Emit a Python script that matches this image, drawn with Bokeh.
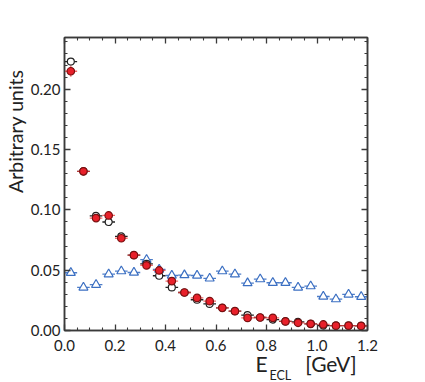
from bokeh.plotting import figure
from bokeh.models import (LinearAxis, FixedTicker, PrintfTickFormatter,
                          CustomJSTickFormatter, Range1d, Title)
from bokeh.embed import file_html
from bokeh.resources import INLINE

# ---- data ----
bin_center = [0.025, 0.075, 0.125, 0.175, 0.225, 0.275, 0.325, 0.375, 0.425, 0.475,
              0.525, 0.575, 0.625, 0.675, 0.725, 0.775, 0.825, 0.875, 0.925, 0.975,
              1.025, 1.075, 1.125, 1.175]
bin_half = 0.025

black_vals = [0.223, 0.132, 0.095, 0.090, 0.078, 0.0625, 0.0553, 0.0454, 0.0357, 0.0315,
              0.0255, 0.022, 0.0188, 0.016, 0.0128, 0.0108, 0.0091, 0.0075, 0.0072, 0.0055,
              0.0041, 0.0040, 0.0040, 0.0038]
black_err = [0.002, 0.0015, 0.0013, 0.0013, 0.0012, 0.0011, 0.001, 0.001, 0.0009, 0.0009,
             0.0008, 0.0008, 0.0007, 0.0007, 0.0006, 0.0006, 0.0006, 0.0005, 0.0005, 0.0005,
             0.0004, 0.0004, 0.0004, 0.0004]

red_vals = [0.215, 0.132, 0.0932, 0.0954, 0.0765, 0.0625, 0.054, 0.0498, 0.041, 0.0315,
            0.027, 0.0243, 0.0188, 0.016, 0.0104, 0.0108, 0.0105, 0.0075, 0.0064, 0.0055,
            0.0050, 0.0040, 0.0040, 0.0038]
red_err = [0.0045, 0.0035, 0.003, 0.003, 0.0028, 0.0025, 0.0023, 0.0022, 0.002, 0.0018,
           0.0017, 0.0016, 0.0014, 0.0013, 0.0012, 0.0012, 0.0011, 0.001, 0.0009, 0.0009,
           0.0008, 0.0008, 0.0007, 0.0007]

blue_vals = [0.0479, 0.0357, 0.038, 0.0467, 0.0492, 0.0481, 0.0587, 0.0506, 0.0456, 0.0460,
             0.0456, 0.0432, 0.0492, 0.0467, 0.0393, 0.0426, 0.0396, 0.0396, 0.0357, 0.0368,
             0.0282, 0.026, 0.0299, 0.028]
blue_err = [0.0018] * 24

x_major = [0.0, 0.2, 0.4, 0.6, 0.8, 1.0, 1.2]
x_minor = [0.05, 0.1, 0.15, 0.25, 0.3, 0.35, 0.45, 0.5, 0.55, 0.65, 0.7, 0.75,
           0.85, 0.9, 0.95, 1.05, 1.1, 1.15]
y_major = [0.0, 0.05, 0.10, 0.15, 0.20]
y_minor = [0.01, 0.02, 0.03, 0.04, 0.06, 0.07, 0.08, 0.09, 0.11, 0.12, 0.13, 0.14,
           0.16, 0.17, 0.18, 0.19, 0.21, 0.22, 0.23, 0.24]

x_label_main = "E"
x_label_sub = "ECL"
x_label_unit = "[GeV]"
y_label = "Arbitrary units"

FONT = "Lato"
AX_COL = "#3a3a3a"
TXT = "#222222"

p = figure(frame_width=303, frame_height=293, output_backend="svg", toolbar_location=None,
           x_range=Range1d(0, 1.2), y_range=Range1d(0, 0.243),
           min_border_left=63, min_border_top=37, min_border_bottom=51, min_border_right=48,
           background_fill_color="white", border_fill_color="white")
p.grid.visible = False
p.outline_line_color = AX_COL
p.outline_line_width = 1.5

def style_axis(ax, major, minor, fmt, labels=True):
    ax.ticker = FixedTicker(ticks=major, minor_ticks=minor)
    ax.major_tick_in = 6
    ax.major_tick_out = 0
    ax.minor_tick_in = 3
    ax.minor_tick_out = 0
    ax.axis_line_color = AX_COL
    ax.axis_line_width = 1.5
    ax.major_tick_line_color = AX_COL
    ax.minor_tick_line_color = AX_COL
    ax.major_tick_line_width = 1.3
    ax.minor_tick_line_width = 1.1
    if labels:
        ax.formatter = PrintfTickFormatter(format=fmt)
        ax.major_label_text_font = FONT
        ax.major_label_text_font_size = "15px"
        ax.major_label_text_color = TXT
    else:
        ax.formatter = CustomJSTickFormatter(code="return ''")
        ax.major_label_text_font_size = "1px"

style_axis(p.xaxis[0], x_major, x_minor, "%.1f")
p.xaxis[0].major_label_standoff = 9
style_axis(p.yaxis[0], y_major, y_minor, "%.2f")
p.yaxis[0].major_label_standoff = 4

top = LinearAxis()
style_axis(top, x_major, x_minor, "", labels=False)
p.add_layout(top, "above")
right = LinearAxis()
style_axis(right, y_major, y_minor, "", labels=False)
p.add_layout(right, "right")

def draw(vals, errs, ecolor, ealpha, marker, size, fill, lcolor):
    x0 = [c - bin_half for c in bin_center]
    x1 = [c + bin_half for c in bin_center]
    lo = [v - e for v, e in zip(vals, errs)]
    hi = [v + e for v, e in zip(vals, errs)]
    p.segment(x0, vals, x1, vals, line_color=ecolor, line_alpha=ealpha, line_width=1.3)
    p.segment(bin_center, lo, bin_center, hi, line_color=ecolor, line_alpha=ealpha, line_width=1.3)
    p.scatter(bin_center, vals, marker=marker, size=size, fill_color=fill,
              line_color=lcolor, line_width=1.2)

draw(blue_vals, blue_err, "#3b6fc2", 0.9, "triangle", 9, "white", "#3b6fc2")
draw(black_vals, black_err, "#222222", 1.0, "circle", 7, "white", "#222222")
draw(red_vals, red_err, "#f03a3a", 0.75, "circle", 7.5, "#e8202a", "#7a1010")

# y axis label
p.add_layout(Title(text=y_label, align="right", offset=32, standoff=2,
                   text_font=FONT, text_font_size="19.5px", text_font_style="normal",
                   text_color=TXT), "left")
# x axis label: main line and subscript
NB = "\u00a0"
p.add_layout(Title(text=x_label_main + NB * 7 + x_label_unit, align="left", offset=191,
                   vertical_align="top", standoff=-6,
                   text_font=FONT, text_font_size="21px", text_font_style="normal",
                   text_color=TXT), "below")
p.add_layout(Title(text=x_label_sub, align="left", offset=205,
                   vertical_align="top", standoff=-14,
                   text_font=FONT, text_font_size="12.5px", text_font_style="normal",
                   text_color=TXT), "below")

open("out.html", "w").write(file_html(p, INLINE))
